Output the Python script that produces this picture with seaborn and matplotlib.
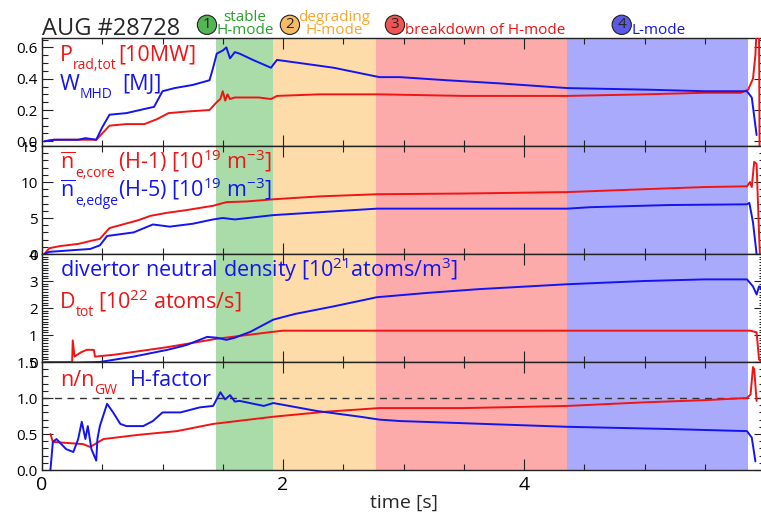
import matplotlib
matplotlib.use("Agg")
import matplotlib.pyplot as plt
from matplotlib.ticker import MultipleLocator
import seaborn as sns

# ---- phase boundaries [s]
phase_edges = [1.44, 1.92, 2.77, 4.36, 5.86]
phase_colors = ["#a9dca9", "#fddcaa", "#fdaaaa", "#aaaafd"]

# ---- panel 1: W_MHD [MJ] and P_rad,tot [10 MW]
wmhd_t = [0.02, 0.1, 0.2, 0.3, 0.36, 0.45, 0.5, 0.56, 0.7, 0.87, 0.93, 1.0, 1.1, 1.25, 1.39,
          1.42, 1.45, 1.5, 1.53, 1.56, 1.6, 1.64, 1.75, 1.84, 1.9, 1.95, 2.14, 2.42, 2.8, 2.97,
          3.36, 3.8, 4.36, 5.02, 5.5, 5.85, 5.89, 5.93]
wmhd = [0.0, 0.01, 0.01, 0.01, 0.02, 0.01, 0.09, 0.17, 0.18, 0.21, 0.22, 0.32, 0.34, 0.36, 0.39,
        0.47, 0.56, 0.58, 0.6, 0.53, 0.57, 0.56, 0.52, 0.49, 0.47, 0.52, 0.5, 0.47, 0.41, 0.41,
        0.39, 0.37, 0.34, 0.33, 0.32, 0.32, 0.28, 0.04]
prad_t = [0.02, 0.1, 0.45, 0.5, 0.56, 0.7, 0.85, 0.95, 1.05, 1.2, 1.39, 1.45, 1.48, 1.5, 1.52,
          1.54, 1.56, 1.6, 1.8, 1.9, 1.95, 2.3, 2.8, 3.5, 4.36, 5.0, 5.5, 5.8, 5.86, 5.9, 5.92,
          5.935, 5.95, 5.955]
prad = [0.0, 0.01, 0.01, 0.05, 0.10, 0.11, 0.11, 0.14, 0.18, 0.19, 0.2, 0.25, 0.27, 0.32, 0.26,
        0.3, 0.27, 0.28, 0.28, 0.27, 0.29, 0.3, 0.3, 0.29, 0.29, 0.3, 0.31, 0.31, 0.33, 0.4, 0.55,
        0.8, 0.8, -0.1]

# ---- panel 2: line averaged densities [1e19 m^-3]
necore_t = [0.02, 0.06, 0.15, 0.3, 0.4, 0.48, 0.56, 0.67, 0.8, 0.9, 1.03, 1.2, 1.42, 1.53, 1.7,
            1.92, 2.3, 2.78, 3.5, 4.36, 5.0, 5.5, 5.85, 5.875, 5.89, 5.91, 5.93, 5.95, 5.96]
necore = [0.0, 0.8, 1.1, 1.4, 1.8, 2.1, 3.6, 4.1, 4.7, 5.3, 5.7, 6.1, 6.7, 7.2, 7.3,
          7.6, 8.0, 8.3, 8.4, 8.6, 9.0, 9.3, 9.4, 10.0, 9.3, 12.8, 12.5, 3.0, -1.0]
needge_t = [0.02, 0.06, 0.4, 0.48, 0.54, 0.76, 0.92, 1.06, 1.25, 1.42, 1.5, 1.6, 1.92, 2.3,
            2.78, 3.5, 4.36, 4.55, 5.2, 5.85, 5.87, 5.9, 5.93]
needge = [0.0, 0.3, 0.7, 1.2, 2.5, 3.0, 4.1, 3.8, 4.2, 4.8, 5.0, 4.8, 5.4, 5.8,
          6.3, 6.3, 6.3, 6.5, 6.8, 6.9, 7.1, 4.4, 0.0]

# ---- panel 3: divertor neutral density [1e21 m^-3], D fuelling [1e22 atoms/s]
n0_t = [0.02, 0.48, 0.76, 1.04, 1.2, 1.37, 1.45, 1.53, 1.6, 1.73, 1.92, 2.1, 2.42, 2.78, 3.2,
        3.63, 4.36, 5.0, 5.5, 5.85, 5.9, 5.93, 5.95, 5.97]
n0 = [-0.05, 0.0, 0.2, 0.45, 0.63, 0.93, 0.9, 0.82, 0.9, 1.12, 1.57, 1.78, 2.06, 2.4, 2.56,
      2.7, 2.88, 3.0, 3.06, 3.06, 2.8, 2.5, 2.8, 2.7]
dtot_t = [0.02, 0.25, 0.255, 0.27, 0.32, 0.37, 0.43, 0.44, 0.6, 1.04, 1.45, 1.92, 2.0, 3.0,
          4.5, 5.88, 5.93, 5.95, 5.97]
dtot = [0.0, 0.0, 0.8, 0.2, 0.35, 0.45, 0.45, 0.2, 0.27, 0.55, 0.86, 1.12, 1.16, 1.16,
        1.16, 1.16, 1.1, 0.1, 0.0]

# ---- panel 4: Greenwald fraction and H-factor
hfac_t = [0.07, 0.09, 0.12, 0.2, 0.26, 0.3, 0.33, 0.36, 0.38, 0.41, 0.45, 0.46, 0.48, 0.54,
          0.59, 0.65, 0.7, 0.84, 0.92, 1.0, 1.15, 1.31, 1.42, 1.48, 1.52, 1.56, 1.6, 1.64,
          1.84, 1.92, 2.28, 2.64, 2.8, 2.97, 3.5, 4.36, 5.19, 5.85, 5.89, 5.92]
hfac = [0.0, 0.39, 0.43, 0.29, 0.25, 0.43, 0.67, 0.43, 0.61, 0.29, 0.13, 0.43, 0.61, 0.92,
        0.8, 0.64, 0.61, 0.61, 0.68, 0.8, 0.8, 0.87, 0.89, 1.08, 0.98, 1.04, 0.95, 0.96,
        0.89, 0.93, 0.82, 0.74, 0.7, 0.68, 0.65, 0.6, 0.57, 0.54, 0.45, 0.12]
ngw_t = [0.07, 0.09, 0.34, 0.4, 0.51, 0.81, 1.12, 1.42, 1.92, 2.36, 2.8, 3.5, 4.36, 5.0,
         5.5, 5.85, 5.88, 5.9, 5.91, 5.93]
ngw = [0.5, 0.39, 0.36, 0.32, 0.43, 0.49, 0.54, 0.64, 0.74, 0.81, 0.86, 0.86, 0.89, 0.94,
       0.97, 1.0, 1.05, 1.43, 1.4, 0.96]

RED = "#f01414"
BLUE = "#1414f0"

sns.set_style("ticks")
plt.rcParams["font.family"] = ["Open Sans", "DejaVu Sans"]
plt.rcParams["mathtext.fontset"] = "custom"
plt.rcParams["mathtext.rm"] = "Open Sans"
plt.rcParams["mathtext.it"] = "Open Sans:italic"
plt.rcParams["mathtext.bf"] = "Open Sans:bold"

fig = plt.figure(figsize=(7.61, 5.17), dpi=100)
axes = fig.subplots(4, 1, sharex=True, gridspec_kw=dict(hspace=0))
fig.subplots_adjust(left=0.0552, right=1.0053, top=0.9265, bottom=0.0909)

series = [
    [(prad_t, prad, RED), (wmhd_t, wmhd, BLUE)],
    [(necore_t, necore, RED), (needge_t, needge, BLUE)],
    [(dtot_t, dtot, RED), (n0_t, n0, BLUE)],
    [(ngw_t, ngw, RED), (hfac_t, hfac, BLUE)],
]
ylims = [(-0.03, 0.66), (0, 15), (0, 4), (0, 1.5)]
ymajor = [0.2, 5, 1, 0.5]
yminor = [0.05, 1, 0.1, 0.1]
yfmt = ["{:.1f}", "{:.0f}", "{:.0f}", "{:.1f}"]

for ax, lines, yl, ma, mi, fm in zip(axes, series, ylims, ymajor, yminor, yfmt):
    for edge0, edge1, c in zip(phase_edges[:-1], phase_edges[1:], phase_colors):
        ax.axvspan(edge0, edge1, color=c, lw=0, zorder=0)
    for t, v, c in lines:
        sns.lineplot(x=t, y=v, ax=ax, color=c, lw=1.4, estimator=None, sort=False, zorder=3)
    ax.set_ylim(*yl)
    ax.yaxis.set_major_locator(MultipleLocator(ma))
    ax.yaxis.set_minor_locator(MultipleLocator(mi))
    ax.yaxis.set_major_formatter(lambda val, pos, f=fm: f.format(val))
    ax.xaxis.set_major_locator(MultipleLocator(2))
    ax.xaxis.set_minor_locator(MultipleLocator(0.5))
    ax.tick_params(which="both", direction="in", top=True, right=True, width=0.8, colors="#222")
    ax.tick_params(which="major", length=8)
    ax.tick_params(which="minor", length=4)
    ax.tick_params(axis="y", labelsize=11, pad=3, labelcolor="black")
    for s in ax.spines.values():
        s.set_linewidth(1.0)
        s.set_color("#222")
    ax.set_ylabel("")

axes[-1].set_xlim(0, 6)
axes[-1].tick_params(axis="x", labelsize=14, pad=4, labelcolor="black")
axes[-1].set_xlabel("time [s]", fontsize=14, labelpad=0)
axes[3].axhline(1.0, color="#333", lw=1.0, ls=(0, (5, 4)), zorder=2)


# ---- panel annotations: big symbol with a smaller, lowered subscript
FS = 15.5
SUB = 10


def symbol(ax, x, y, main, sub, color):
    t = ax.text(x, y, main, transform=ax.transAxes, fontsize=FS, color=color,
                va="baseline", ha="left")
    ax.annotate(sub, xy=(1, y), xycoords=(t, ax.transAxes), xytext=(0.0, -6.0),
                textcoords="offset points", fontsize=SUB, color=color,
                va="baseline", ha="left")


def plain(ax, x, y, s, color):
    ax.text(x, y, s, transform=ax.transAxes, fontsize=FS, color=color,
            va="baseline", ha="left")


a = axes[0]
symbol(a, 0.025, 0.79, "P", "rad,tot", RED)
plain(a, 0.105, 0.79, "[10MW]", RED)
symbol(a, 0.025, 0.52, "W", "MHD", BLUE)
plain(a, 0.111, 0.52, "[MJ]", BLUE)

a = axes[1]
symbol(a, 0.025, 0.79, r"$\overline{\mathrm{n}}$", "e,core", RED)
plain(a, 0.105, 0.79, r"(H-1) [10$^{19}$ m$^{-3}$]", RED)
symbol(a, 0.025, 0.53, r"$\overline{\mathrm{n}}$", "e,edge", BLUE)
plain(a, 0.105, 0.53, r"(H-5) [10$^{19}$ m$^{-3}$]", BLUE)

a = axes[2]
plain(a, 0.025, 0.785, r"divertor neutral density [10$^{21}$atoms/m$^{3}$]", BLUE)
symbol(a, 0.025, 0.50, "D", "tot", RED)
plain(a, 0.0775, 0.50, r"[10$^{22}$ atoms/s]", RED)

a = axes[3]
symbol(a, 0.025, 0.78, "n/n", "GW", RED)
plain(a, 0.122, 0.78, "H-factor", BLUE)

# ---- header
fig.text(0.055, 0.932, "AUG #28728", fontsize=17, va="baseline", ha="left")
marks = [("1", 0.272, "#55b555", "stable\nH-mode", "#2aa02a", 0.322, "center"),
         ("2", 0.381, "#f5bb66", "degrading\nH-mode", "#f9a62c", 0.439, "center"),
         ("3", 0.519, "#ee5555", "breakdown of H-mode", "#f01414", 0.532, "left"),
         ("4", 0.817, "#5a5ae6", "L-mode", "#1414f0", 0.830, "left")]
for num, cx, fc, label, tc, lx, ha in marks:
    fig.text(cx, 0.952, num, fontsize=11, ha="center", va="center",
             bbox=dict(boxstyle="circle,pad=0.14", fc=fc, ec="#222", lw=0.8))
    if ha == "center":
        fig.text(lx, 0.953, label, fontsize=11, color=tc, ha="center", va="center",
                 linespacing=0.85)
    else:
        fig.text(lx, 0.934, label, fontsize=11, color=tc, ha="left", va="baseline")

fig.savefig("out.png", dpi=100)
